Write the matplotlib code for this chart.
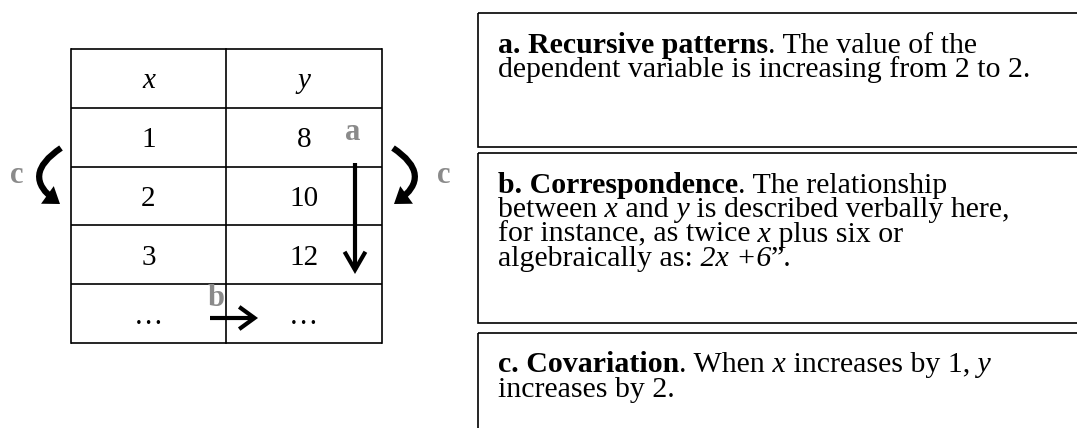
import matplotlib
matplotlib.use("Agg")
import matplotlib.pyplot as plt
from matplotlib.patches import Rectangle, FancyArrowPatch

# table content
col_labels = ["x", "y"]
x_vals = ["1", "2", "3", "…"]
y_vals = ["8", "10", "12", "…"]

# text in the three boxes: (text, style) pieces per line
box_a = [
    [("a. Recursive patterns", "bold"), (". The value of the", "normal")],
    [("dependent variable is increasing from 2 to 2.", "normal")],
]
box_b = [
    [("b. Correspondence", "bold"), (". The relationship", "normal")],
    [("between", "normal"), (" x", "italic"), (" and", "normal"), (" y", "italic"),
     (" is described verbally here,", "normal")],
    [("for instance, as twice", "normal"), (" x", "italic"), (" plus six or", "normal")],
    [("algebraically as:", "normal"), (" 2x +6", "italic"), ("”.", "normal")],
]
box_c = [
    [("c. Covariation", "bold"), (". When", "normal"), (" x", "italic"),
     (" increases by 1,", "normal"), (" y", "italic")],
    [("increases by 2.", "normal")],
]

SERIF = "Liberation Serif"
GREY = "#8a8a8a"
TXT = 21.5
STEP = 24.6

fig = plt.figure(figsize=(10.77, 4.28), dpi=100)
ax = fig.add_axes([0, 0, 1, 1])
ax.set_xlim(0, 1077)
ax.set_ylim(428, 0)
ax.axis("off")
renderer = fig.canvas.get_renderer()

# ---- table ----
left, mid, right = 71, 226, 382
top, row_h = 49, 58.8
n_rows = len(x_vals) + 1
for i in range(n_rows + 1):
    y = top + i * row_h
    ax.plot([left, right], [y, y], color="black", lw=1.2, solid_capstyle="butt")
for x in (left, mid, right):
    ax.plot([x, x], [top, top + n_rows * row_h], color="black", lw=1.2)

cx = [(left + mid) / 2, (mid + right) / 2]
for j, lab in enumerate(col_labels):
    ax.text(cx[j], top + 0.5 * row_h + 10, lab, fontsize=21, family=SERIF,
            style="italic", ha="center", va="baseline")
for i, (xv, yv) in enumerate(zip(x_vals, y_vals)):
    yb = top + (i + 1.5) * row_h + 10
    ax.text(cx[0], yb, xv, fontsize=21, family=SERIF, ha="center", va="baseline")
    ax.text(cx[1], yb, yv, fontsize=21, family=SERIF, ha="center", va="baseline")

# ---- arrows ----
def arrow(p0, p1, style, lw, rad=0.0):
    a = FancyArrowPatch(p0, p1, arrowstyle=style, mutation_scale=1, lw=lw,
                        color="black", connectionstyle="arc3,rad=%s" % rad,
                        shrinkA=0, shrinkB=0, capstyle="butt", joinstyle="miter")
    ax.add_patch(a)

arrow((355, 163), (355, 274), "->,head_length=13,head_width=7.5", 3)
arrow((210, 318), (258, 318), "->,head_length=11,head_width=8", 3)
arrow((61, 148), (60, 204), "-|>,head_length=5,head_width=3.5", 4.5, rad=0.72)
arrow((393, 148), (394, 204), "-|>,head_length=5,head_width=3.5", 4.5, rad=-0.72)

for s, (lx, ly) in zip("abcc", [(353, 133), (216, 298), (17, 175), (444, 175)]):
    ax.text(lx, ly, s, fontsize=22, family=SERIF, weight="bold", color=GREY,
            ha="center", va="center")

# ---- boxes ----
boxes = [(13, 147, box_a, 52.5), (153, 323, box_b, 192.5), (333, 460, box_c, 372.5)]
for y0, y1, lines, base in boxes:
    ax.add_patch(Rectangle((478, y0), 700, y1 - y0, fill=False, ec="black", lw=1.2))
    for k, parts in enumerate(lines):
        x = 498
        y = base + k * STEP
        for s, st in parts:
            t = ax.text(x, y, s, fontsize=TXT, family=SERIF, ha="left", va="baseline",
                        weight="bold" if st == "bold" else "normal",
                        style="italic" if st == "italic" else "normal")
            x += t.get_window_extent(renderer=renderer).width

fig.savefig("out.png", dpi=100)
